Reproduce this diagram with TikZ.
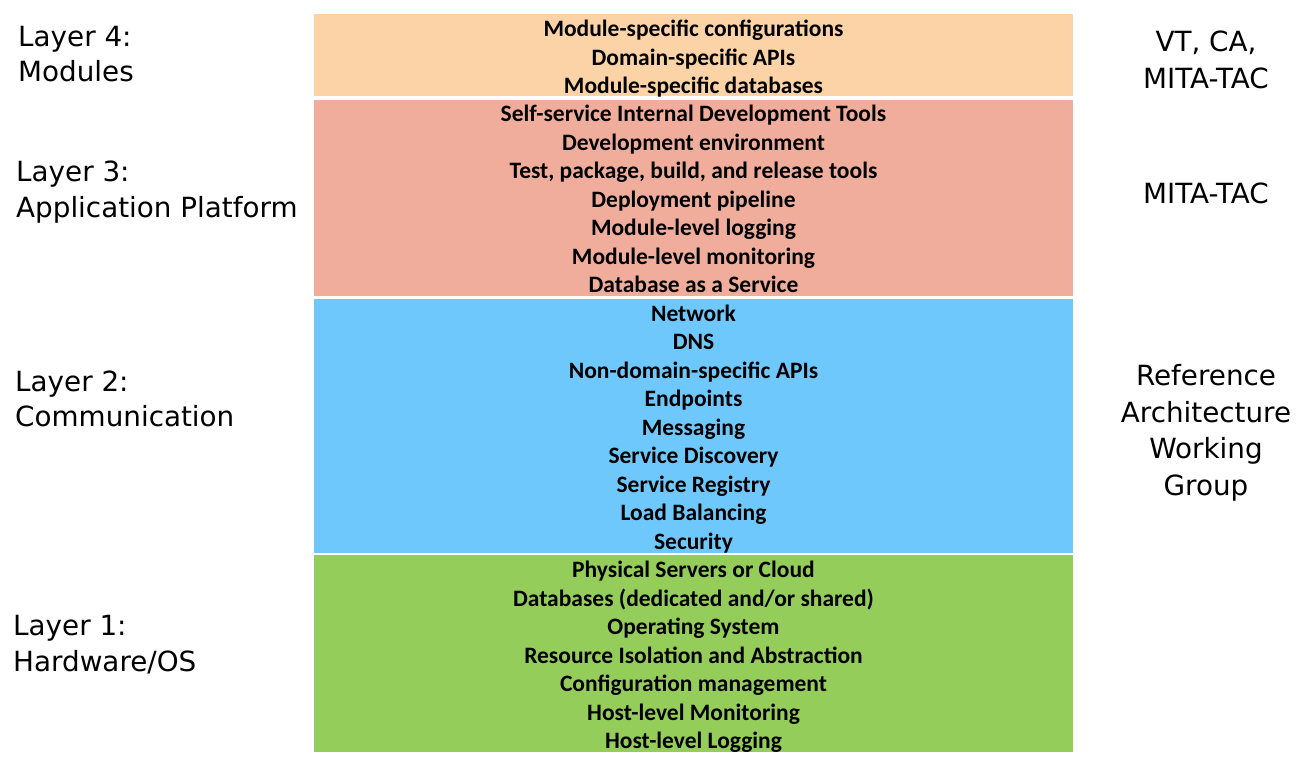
\documentclass[tikz,border=0pt]{standalone}
\usepackage{fontspec}
\setmainfont{Carlito}
\newfontfamily\labelfont{DejaVu Sans}
\definecolor{modfill}{HTML}{FBD3A6}
\definecolor{appfill}{HTML}{F0AD9B}
\definecolor{comfill}{HTML}{6EC8FC}
\definecolor{hwfill}{HTML}{94CD5A}
\tikzset{
  layerbox/.style={rectangle, inner sep=0pt, outer sep=0pt, minimum width=759pt,
    align=center, font=\bfseries\fontsize{23.5}{28.5}\selectfont},
  sidelabel/.style={inner sep=0pt, anchor=west, align=left,
    font=\labelfont\fontsize{27.8}{35.5}\selectfont},
  ownerlabel/.style={inner sep=0pt, align=center,
    font=\labelfont\fontsize{27.8}{36.5}\selectfont}
}
\begin{document}
\begin{tikzpicture}[x=1pt,y=-1pt]
\useasboundingbox (0,0) rectangle (1315,760);
\fill[white] (0,0) rectangle (1315,760);

% the four stacked layers (fills), text set separately on top
\path[fill=modfill] (314,14) rectangle (1073,96);
\path[fill=appfill] (314,100) rectangle (1073,296);
\path[fill=comfill] (314,299) rectangle (1073,553);
\path[fill=hwfill] (314,555) rectangle (1073,752);

\node[layerbox] (l4) at (693.5,59)
  {Module-specific configurations\\Domain-specific APIs\\Module-specific databases};
\node[layerbox] (l3) at (693.5,199)
  {Self-service Internal Development Tools\\Development environment\\Test, package, build, and release tools\\Deployment pipeline\\Module-level logging\\Module-level monitoring\\Database as a Service};
\node[layerbox] (l2) at (693.5,429)
  {Network\\DNS\\Non-domain-specific APIs\\Endpoints\\Messaging\\Service Discovery\\Service Registry\\Load Balancing\\Security};
\node[layerbox] (l1) at (693.5,657)
  {Physical Servers or Cloud\\Databases (dedicated and/or shared)\\Operating System\\Resource Isolation and Abstraction\\Configuration management\\Host-level Monitoring\\Host-level Logging};

% layer names on the left
\node[sidelabel] (n4) at (18,54) {Layer 4:\\Modules};
\node[sidelabel] (n3) at (16,192) {Layer 3:\\Application Platform};
\node[sidelabel] (n2) at (15,399) {Layer 2:\\Communication};
\node[sidelabel] (n1) at (13,644.5) {Layer 1:\\Hardware/OS};

% owners on the right
\node[ownerlabel] (o4) at (1206,60) {VT, CA,\\MITA-TAC};
\node[ownerlabel] (o3) at (1206,193) {MITA-TAC};
\node[ownerlabel] (o2) at (1206,433) {Reference\\Architecture\\Working\\Group};
\end{tikzpicture}
\end{document}
